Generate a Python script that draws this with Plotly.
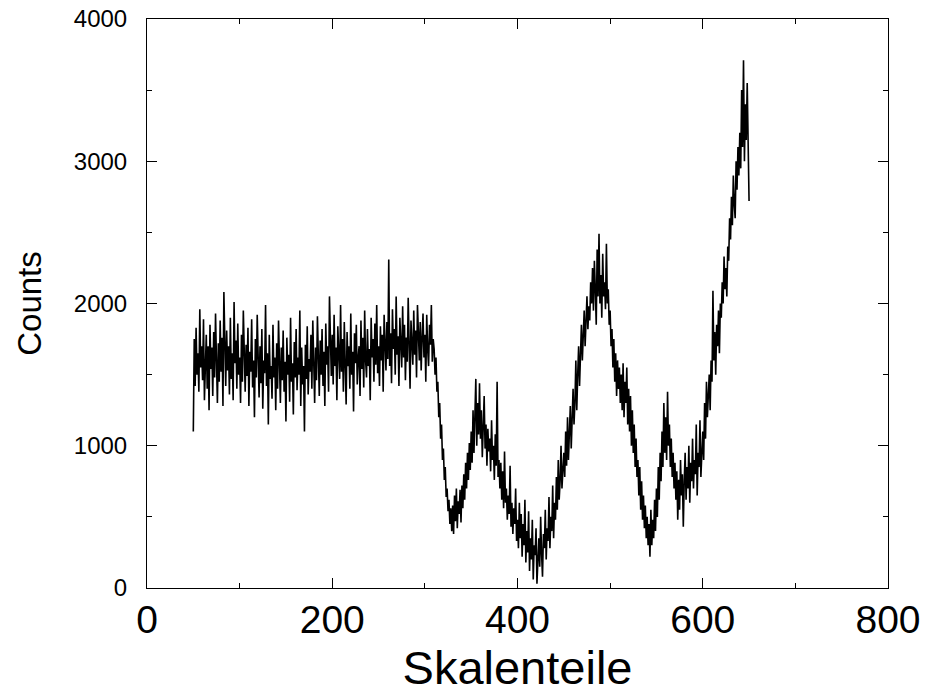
import plotly.graph_objects as go

x_start = 50
counts = [
    1100, 1750, 1420, 1830, 1500, 1650, 1380, 1960, 1550, 1700,
    1460, 1890, 1320, 1620, 1780, 1400, 1700, 1250, 1850, 1540,
    1690, 1350, 1800, 1480, 1930, 1600, 1300, 1720, 1450, 1880,
    1520, 1760, 1280, 2080, 1600, 1420, 1810, 1530, 1700, 1360,
    1900, 1470, 1650, 1320, 2010, 1580, 1740, 1400, 1860, 1500,
    1620, 1300, 1780, 1450, 1950, 1560, 1380, 1710, 1490, 1830,
    1280, 1660, 1520, 1890, 1410, 1600, 1200, 1750, 1480, 1920,
    1550, 1340, 1700, 1440, 1820, 1260, 1600, 1510, 1990, 1420,
    1650, 1150, 1780, 1470, 1560, 1330, 1850, 1480, 1620, 1250,
    1720, 1400, 1880, 1530, 1300, 1690, 1460, 1810, 1380, 1590,
    1170, 1760, 1500, 1640, 1310, 1900, 1450, 1580, 1220, 1730,
    1480, 1820, 1390, 1620, 1500, 1950, 1280, 1690, 1430, 1560,
    1100, 1710, 1470, 1840, 1360, 1610, 1520, 1780, 1400, 1880,
    1550, 1300, 1690, 1460, 1910, 1580, 1350, 1740, 1500, 1820,
    1420, 1660, 1280, 1860, 1570, 1700, 1380, 2050, 1610, 1490,
    1780, 1430, 1920, 1560, 1690, 1320, 1840, 1600, 1470, 1990,
    1520, 1750, 1380, 1870, 1640, 1290, 1800, 1560, 1700, 1400,
    1930, 1500, 1660, 1240, 1790, 1580, 1850, 1430, 1620, 1700,
    1350, 1880, 1540, 1760, 1410, 1950, 1600, 1480, 1820, 1560,
    1680, 1320, 1900, 1620, 1750, 1450, 1860, 1570, 1990, 1510,
    1700, 1420, 1840, 1600, 1780, 1380, 1920, 1650, 1530, 1870,
    1610, 2310, 1560, 1790, 1440, 1960, 1680, 1820, 1500, 2050,
    1640, 1770, 1420, 1900, 1690, 1550, 1980, 1620, 1850, 1460,
    1760, 1590, 2040, 1680, 1400, 1880, 1720, 1570, 1950, 1640,
    1810, 1480, 1990, 1700, 1600, 1870, 1530, 1760, 1930, 1620,
    1780, 1450, 1920, 1680, 1560, 1850, 1710, 1990, 1590, 1750,
    1680, 1500, 1620, 1380, 1450, 1200, 1300, 1050, 1150, 900,
    980, 760, 850, 640, 700, 540, 620, 450, 560, 400,
    580, 380, 650, 470, 700, 420, 610, 520, 690, 460,
    720, 560, 800, 620, 880, 700, 950, 760, 1020, 830,
    1100, 880, 1250, 950, 1180, 1470, 1000, 1300, 1080, 1440,
    1050, 1250, 920, 1200, 1350, 980, 1150, 860, 1120, 960,
    1050, 820, 1180, 900, 1000, 760, 1080, 860, 1450, 780,
    900, 700, 880, 620, 820, 560, 960, 600, 700, 480,
    650, 520, 860, 430, 600, 380, 560, 450, 700, 330,
    480, 280, 600, 350, 520, 220, 450, 300, 620, 180,
    400, 250, 540, 120, 350, 200, 480, 60, 300, 230,
    420, 30, 260, 350, 150, 500, 240, 80, 380, 280,
    550, 200, 420, 330, 640, 280, 500, 400, 720, 350,
    600, 480, 780, 550, 900, 620, 750, 1000, 700, 860,
    950, 780, 1100, 860, 1200, 900, 1050, 1280, 980, 1180,
    1400, 1150, 1300, 1600, 1250, 1500, 1700, 1420, 1650, 1850,
    1600, 1800, 1950, 1700, 1900, 2050, 1820, 1980, 1880, 2150,
    2000, 2250, 1950, 2300, 2100, 1850, 2380, 2050, 2490, 2000,
    2200, 1900, 2350, 2050, 2150, 1960, 2420, 2000, 2100, 1850,
    1950, 1700, 1820, 1550, 1750, 1450, 1650, 1350, 1600, 1400,
    1550, 1300, 1500, 1250, 1580, 1200, 1450, 1300, 1550, 1150,
    1400, 1100, 1350, 1000, 1250, 950, 1150, 850, 1050, 780,
    900, 650, 850, 550, 750, 480, 650, 420, 580, 350,
    500, 300, 450, 220, 550, 300, 480, 350, 620, 400,
    700, 500, 850, 620, 950, 750, 1100, 850, 1300, 950,
    1200, 900, 1380, 1000, 1150, 850, 1050, 780, 950, 700,
    880, 620, 820, 480, 760, 550, 900, 650, 800, 430,
    750, 950, 620, 850, 700, 1000, 600, 880, 750, 1050,
    700, 900, 800, 1150, 650, 950, 850, 1180, 780, 1000,
    1100, 900, 1300, 1050, 1450, 1200, 1350, 1500, 1250, 1600,
    1450, 2090, 1600, 1800, 1500, 1850, 1700, 1950, 1650, 2000,
    1900, 2150, 2000, 2330, 2100, 2250, 2050, 2400, 2300, 2600,
    2450, 2750, 2550, 2900, 2700, 2600, 3000, 2800, 3100, 2900,
    3200, 2950, 3500, 3100, 3710, 3000, 3400, 3150, 3550, 3050,
    2720,
]
channels = list(range(x_start, x_start + len(counts)))

x_title = "Skalenteile"
y_title = "Counts"

fig = go.Figure()
fig.add_trace(go.Scatter(
    x=channels, y=counts, mode="lines",
    line=dict(color="black", width=1.6),
    showlegend=False, hoverinfo="skip",
))

font_family = "Liberation Sans, Arial, sans-serif"

fig.update_layout(
    width=928, height=700,
    paper_bgcolor="white", plot_bgcolor="white",
    margin=dict(l=147, r=40, t=19, b=112, autoexpand=False),
    font=dict(family=font_family, color="black"),
)
fig.update_xaxes(
    range=[0, 800], dtick=200, tick0=0, automargin=False,
    ticks="inside", ticklen=10, tickwidth=1, tickcolor="black",
    showline=True, linecolor="black", linewidth=1, mirror="allticks",
    showgrid=False, zeroline=False,
    tickfont=dict(size=39, family=font_family),
    ticklabelstandoff=-3, ticklabeloverflow="allow",
    title=dict(text=x_title, font=dict(size=47, family=font_family), standoff=0),
    minor=dict(dtick=100, tick0=0, ticks="inside", ticklen=5, tickcolor="black", showgrid=False),
)
fig.update_yaxes(
    range=[0, 4000], dtick=1000, tick0=0, automargin=False,
    ticks="inside", ticklen=10, tickwidth=1, tickcolor="black",
    showline=True, linecolor="black", linewidth=1, mirror="allticks",
    showgrid=False, zeroline=False,
    tickfont=dict(size=24, family=font_family),
    ticklabelstandoff=14, ticklabeloverflow="allow",
    title=dict(text=y_title, font=dict(size=33, family=font_family), standoff=22),
    minor=dict(dtick=500, tick0=0, ticks="inside", ticklen=5, tickcolor="black", showgrid=False),
)

fig.write_html(
    "out.html",
    config={"displayModeBar": False, "staticPlot": True},
    post_script="document.body.style.margin='0px';document.body.style.overflow='hidden';",
)
